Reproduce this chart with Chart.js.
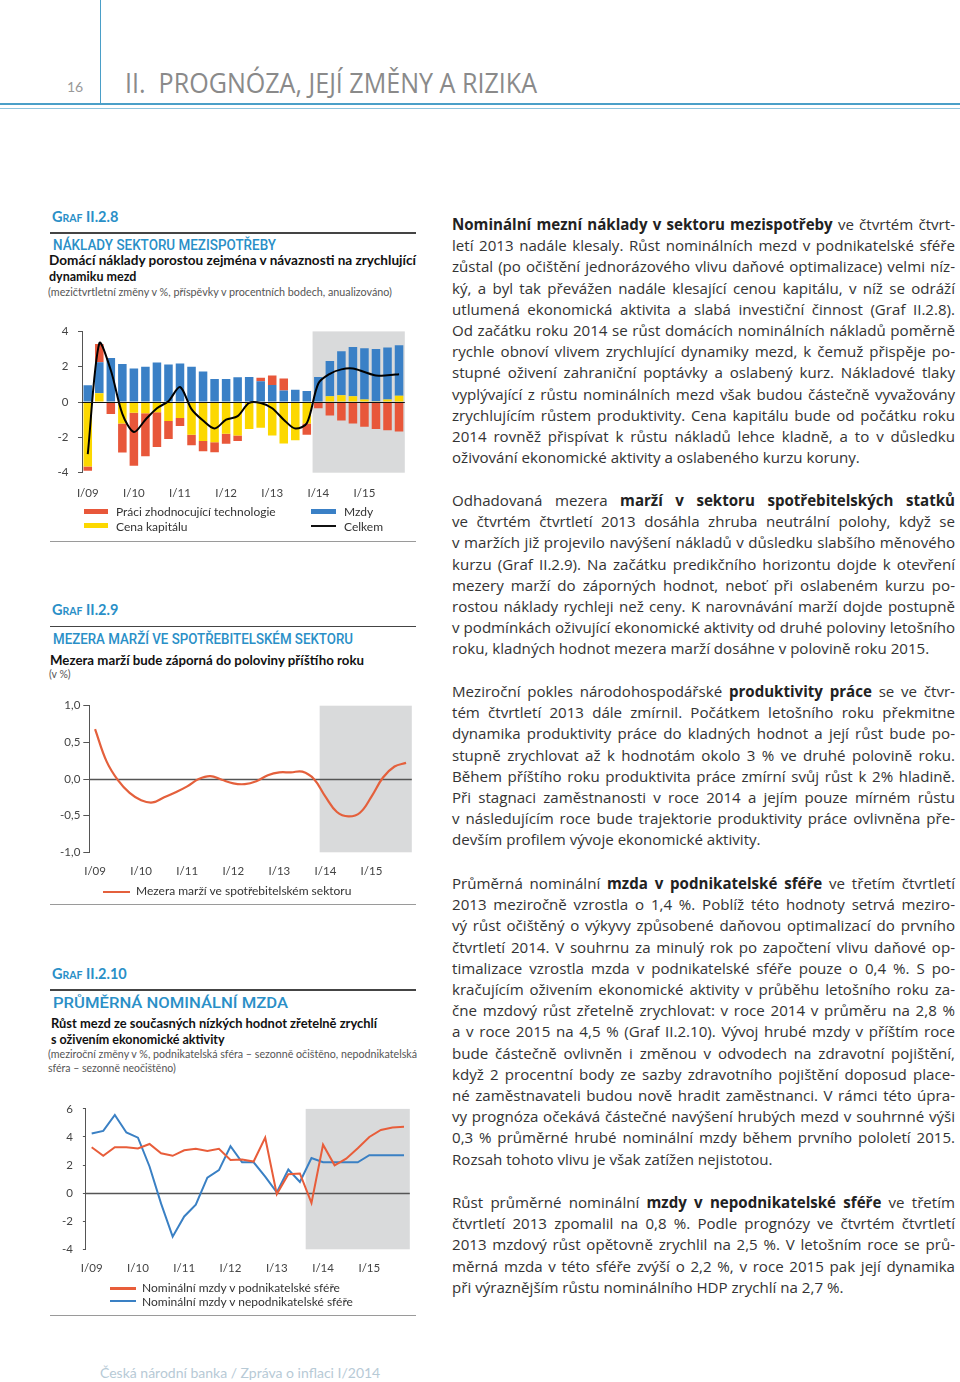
<!DOCTYPE html>
<html><head><meta charset="utf-8">
<script src="https://cdn.jsdelivr.net/npm/chart.js@4.4.1/dist/chart.umd.min.js"></script>
<style>
body{margin:0;width:960px;height:1382px;position:relative;background:#fff;font-family:Lato,"Open Sans",sans-serif;overflow:hidden;color:#333}
.a{position:absolute}
.t{position:absolute;white-space:nowrap;transform-origin:0 50%}
.graf{font-weight:700;color:#2a8fc7;font-size:14.5px;line-height:17px}
.graf span{font-size:10.5px}
.ttl{font-family:Roboto,sans-serif;font-weight:500;color:#2a8fc7;font-size:15px;line-height:17px}
.sub{font-weight:700;color:#111;font-size:12.5px;line-height:15px}
.note{color:#555;font-size:10.5px;line-height:13px}
.rule{position:absolute;left:50px;width:366px;height:1.5px;background:#444}
.rule2{position:absolute;left:50px;width:366px;height:1px;background:#9a9a9a}
.leg{position:absolute;font-size:12px;line-height:14px;color:#333;white-space:nowrap}
.sw{position:absolute}
.col{position:absolute;left:452px;width:503px;font-family:"Open Sans",sans-serif;font-size:15.1px;line-height:21.2px;color:#333}
.l{text-align:justify;text-align-last:justify}
.l.last{text-align:left;text-align-last:left}
.col b{font-weight:700;color:#222}
canvas{position:absolute}
</style></head><body>

<!-- header -->
<div class="a" style="left:99.5px;top:0;width:1.5px;height:104px;background:#4a9fc8"></div>
<div class="a" style="left:0;top:103px;width:960px;height:1.5px;background:#4a9fc8"></div>
<div class="a" style="left:0;top:107.5px;width:960px;height:1px;background:#8ec4de"></div>
<div class="t" style="left:67px;top:78px;font-size:14px;line-height:17px;color:#999">16</div>
<div class="t" data-fit="412" style="left:125px;top:68px;font-family:'Open Sans',sans-serif;font-size:27px;line-height:30px;color:#8a8a8a">II.&nbsp; PROGNÓZA, JEJÍ ZMĚNY A RIZIKA</div>

<!-- Graf II.2.8 -->
<div class="t graf" style="left:52px;top:208px">G<span>RAF</span> II.2.8</div>
<div class="rule" style="top:232px"></div>
<div class="t ttl" data-fit="223" style="left:53px;top:237px">NÁKLADY SEKTORU MEZISPOTŘEBY</div>
<div class="t sub" data-fit="367" style="left:49px;top:253px">Domácí náklady porostou zejména v návaznosti na zrychlující</div>
<div class="t sub" style="left:49px;top:269px">dynamiku mezd</div>
<div class="t note" data-fit="344" style="left:48px;top:286px">(mezičtvrtletní změny v %, příspěvky v procentních bodech, anualizováno)</div>
<canvas id="c1" width="380" height="200" style="left:40px;top:315px"></canvas>
<div class="sw" style="left:84px;top:509px;width:24px;height:5px;background:#e8573a"></div>
<div class="leg" style="left:116px;top:505px">Práci zhodnocující technologie</div>
<div class="sw" style="left:84px;top:523px;width:24px;height:5px;background:#fcd800"></div>
<div class="leg" style="left:116px;top:520px">Cena kapitálu</div>
<div class="sw" style="left:311px;top:509px;width:25px;height:5px;background:#3a80c6"></div>
<div class="leg" style="left:344px;top:505px">Mzdy</div>
<div class="sw" style="left:311px;top:525px;width:25px;height:2px;background:#111"></div>
<div class="leg" style="left:344px;top:520px">Celkem</div>
<div class="rule2" style="top:541px"></div>

<!-- Graf II.2.9 -->
<div class="t graf" style="left:52px;top:601px">G<span>RAF</span> II.2.9</div>
<div class="rule" style="top:625.5px"></div>
<div class="t ttl" data-fit="300" style="left:53px;top:631px">MEZERA MARŽÍ VE SPOTŘEBITELSKÉM SEKTORU</div>
<div class="t sub" data-fit="314" style="left:50px;top:653px">Mezera marží bude záporná do poloviny příštího roku</div>
<div class="t note" style="left:49px;top:668px">(v %)</div>
<canvas id="c2" width="380" height="190" style="left:40px;top:695px"></canvas>
<div class="sw" style="left:103px;top:890.5px;width:27px;height:2.5px;background:#e4603c"></div>
<div class="leg" style="left:136px;top:884px">Mezera marží ve spotřebitelském sektoru</div>
<div class="rule2" style="top:904px"></div>

<!-- Graf II.2.10 -->
<div class="t graf" style="left:52px;top:965px">G<span>RAF</span> II.2.10</div>
<div class="rule" style="top:989px"></div>
<div class="t ttl" data-fit="235" style="left:53px;top:995px">PRŮMĚRNÁ NOMINÁLNÍ MZDA</div>
<div class="t sub" data-fit="326" style="left:51px;top:1016px">Růst mezd ze současných nízkých hodnot zřetelně zrychlí</div>
<div class="t sub" style="left:51px;top:1032px">s oživením ekonomické aktivity</div>
<div class="t note" data-fit="369" style="left:48px;top:1048px">(meziroční změny v %, podnikatelská sféra – sezonně očištěno, nepodnikatelská</div>
<div class="t note" style="left:48px;top:1062px">sféra – sezonně neočištěno)</div>
<canvas id="c3" width="380" height="190" style="left:40px;top:1092px"></canvas>
<div class="sw" style="left:110px;top:1287px;width:26px;height:2.5px;background:#e85d3a"></div>
<div class="leg" style="left:142px;top:1281px">Nominální mzdy v podnikatelské sféře</div>
<div class="sw" style="left:110px;top:1299.5px;width:26px;height:2.5px;background:#3a80c4"></div>
<div class="leg" style="left:142px;top:1295px">Nominální mzdy v nepodnikatelské sféře</div>
<div class="rule2" style="top:1315px"></div>

<!-- right column -->
<div class="col" style="top:214px">
<div class="l"><b>Nominální mezní náklady v sektoru mezispotřeby</b> ve čtvrtém čtvrt-</div>
<div class="l">letí 2013 nadále klesaly. Růst nominálních mezd v podnikatelské sféře</div>
<div class="l">zůstal (po očištění jednorázového vlivu daňové optimalizace) velmi níz-</div>
<div class="l">ký, a byl tak převážen nadále klesající cenou kapitálu, v níž se odráží</div>
<div class="l">utlumená ekonomická aktivita a slabá investiční činnost (Graf II.2.8).</div>
<div class="l">Od začátku roku 2014 se růst domácích nominálních nákladů poměrně</div>
<div class="l">rychle obnoví vlivem zrychlující dynamiky mezd, k čemuž přispěje po-</div>
<div class="l">stupné oživení zahraniční poptávky a oslabený kurz. Nákladové tlaky</div>
<div class="l">vyplývající z růstu nominálních mezd však budou částečně vyvažovány</div>
<div class="l">zrychlujícím růstem produktivity. Cena kapitálu bude od počátku roku</div>
<div class="l">2014 rovněž přispívat k růstu nákladů lehce kladně, a to v důsledku</div>
<div class="l last">oživování ekonomické aktivity a oslabeného kurzu koruny.</div>
</div>
<div class="col" style="top:490px">
<div class="l">Odhadovaná mezera <b>marží v sektoru spotřebitelských statků</b></div>
<div class="l">ve čtvrtém čtvrtletí 2013 dosáhla zhruba neutrální polohy, když se</div>
<div class="l">v maržích již projevilo navýšení nákladů v důsledku slabšího měnového</div>
<div class="l">kurzu (Graf II.2.9). Na začátku predikčního horizontu dojde k otevření</div>
<div class="l">mezery marží do záporných hodnot, neboť při oslabeném kurzu po-</div>
<div class="l">rostou náklady rychleji než ceny. K narovnávání marží dojde postupně</div>
<div class="l">v podmínkách oživující ekonomické aktivity od druhé poloviny letošního</div>
<div class="l last">roku, kladných hodnot mezera marží dosáhne v polovině roku 2015.</div>
</div>
<div class="col" style="top:681px">
<div class="l">Meziroční pokles národohospodářské <b>produktivity práce</b> se ve čtvr-</div>
<div class="l">tém čtvrtletí 2013 dále zmírnil. Počátkem letošního roku překmitne</div>
<div class="l">dynamika produktivity práce do kladných hodnot a její růst bude po-</div>
<div class="l">stupně zrychlovat až k hodnotám okolo 3 % ve druhé polovině roku.</div>
<div class="l">Během příštího roku produktivita práce zmírní svůj růst k 2% hladině.</div>
<div class="l">Při stagnaci zaměstnanosti v roce 2014 a jejím pouze mírném růstu</div>
<div class="l">v následujícím roce bude trajektorie produktivity práce ovlivněna pře-</div>
<div class="l last">devším profilem vývoje ekonomické aktivity.</div>
</div>
<div class="col" style="top:873px">
<div class="l">Průměrná nominální <b>mzda v podnikatelské sféře</b> ve třetím čtvrtletí</div>
<div class="l">2013 meziročně vzrostla o 1,4 %. Poblíž této hodnoty setrvá meziro-</div>
<div class="l">vý růst očištěný o výkyvy způsobené daňovou optimalizací do prvního</div>
<div class="l">čtvrtletí 2014. V souhrnu za minulý rok po započtení vlivu daňové op-</div>
<div class="l">timalizace vzrostla mzda v podnikatelské sféře pouze o 0,4 %. S po-</div>
<div class="l">kračujícím oživením ekonomické aktivity v průběhu letošního roku za-</div>
<div class="l">čne mzdový růst zřetelně zrychlovat: v roce 2014 v průměru na 2,8 %</div>
<div class="l">a v roce 2015 na 4,5 % (Graf II.2.10). Vývoj hrubé mzdy v příštím roce</div>
<div class="l">bude částečně ovlivněn i změnou v odvodech na zdravotní pojištění,</div>
<div class="l">když 2 procentní body ze sazby zdravotního pojištění doposud place-</div>
<div class="l">né zaměstnavateli budou nově hradit zaměstnanci. V rámci této úpra-</div>
<div class="l">vy prognóza očekává částečné navýšení hrubých mezd v souhrnné výši</div>
<div class="l">0,3 % průměrné hrubé nominální mzdy během prvního pololetí 2015.</div>
<div class="l last">Rozsah tohoto vlivu je však zatížen nejistotou.</div>
</div>
<div class="col" style="top:1192px">
<div class="l">Růst průměrné nominální <b>mzdy v nepodnikatelské sféře</b> ve třetím</div>
<div class="l">čtvrtletí 2013 zpomalil na 0,8 %. Podle prognózy ve čtvrtém čtvrtletí</div>
<div class="l">2013 mzdový růst opětovně zrychlil na 2,5 %. V letošním roce se prů-</div>
<div class="l">měrná mzda v této sféře zvýší o 2,2 %, v roce 2015 pak její dynamika</div>
<div class="l last">při výraznějším růstu nominálního HDP zrychlí na 2,7 %.</div>
</div>

<div class="t" style="left:100px;top:1364px;font-size:14px;line-height:17px;color:#b7cad6">Česká národní banka / Zpráva o inflaci I/2014</div>

<script>
// ---------- data ----------
const quarters = ["I/09","II/09","III/09","IV/09","I/10","II/10","III/10","IV/10","I/11","II/11","III/11","IV/11","I/12","II/12","III/12","IV/12","I/13","II/13","III/13","IV/13","I/14","II/14","III/14","IV/14","I/15","II/15","III/15","IV/15"];

// Graf II.2.8
const cenaKapitalu = [-3.65,0.5,0,-1.22,-0.6,-0.64,-0.58,-1.07,-0.9,-1.85,-2.2,-2.27,-1.8,-1.9,-1.53,-1.45,-1.9,-2.35,-2.16,-1.22,0,0.33,0.38,0.33,0.15,0.05,0.15,0.35];
const mzdy = [0.95,1.76,2.5,2.15,1.9,2.0,2.24,2.13,2.18,2.0,1.73,1.31,1.31,1.4,1.42,1.18,0.96,0.65,0.7,0.62,1.42,2.0,2.49,2.78,2.89,2.95,2.94,2.87];
const praciZhodnocujici = [-0.24,1.02,-0.67,-1.63,-3.0,-2.43,-1.97,-1.02,-0.45,-0.59,-0.58,-0.57,-0.56,-0.3,0,0.2,0.55,0.68,0,-0.63,-0.35,-0.76,-1.04,-1.22,-1.4,-1.53,-1.6,-1.67];
const celkem = [-2.95,3.33,1.8,-0.67,-1.7,-1.0,-0.35,0.05,0.85,-0.4,-1.05,-1.5,-1.0,-0.8,-0.05,-0.05,-0.35,-1.0,-1.5,-1.2,1.05,1.6,1.85,1.9,1.7,1.5,1.52,1.58];

// Graf II.2.9
const mezeraMarzi = [0.68,0.24,-0.02,-0.19,-0.29,-0.32,-0.25,-0.18,-0.10,0.0,0.04,-0.01,-0.06,-0.07,-0.03,0.05,0.09,0.09,0.10,0.0,-0.24,-0.45,-0.51,-0.46,-0.24,0.02,0.17,0.22];

// Graf II.2.10
const mzdyPodnikatelske = [3.27,2.66,3.27,3.27,3.18,3.5,2.84,2.66,3.05,3.16,3.0,3.16,2.36,2.4,2.25,3.95,-0.07,1.34,1.4,-0.7,3.45,1.98,2.45,3.2,4.0,4.5,4.68,4.72];
const mzdyNepodnikatelske = [4.25,4.43,5.57,4.32,3.95,1.9,-0.75,-3.1,-1.66,-0.82,1.11,1.64,3.34,2.2,2.2,1.18,0.05,1.68,0.8,2.5,2.2,2.2,2.2,2.2,2.7,2.7,2.7,2.7];

// ---------- text fitting ----------
document.querySelectorAll('[data-fit]').forEach(el=>{
  const w = el.getBoundingClientRect().width;
  const target = parseFloat(el.dataset.fit);
  el.style.transform = 'scaleX(' + (target / w) + ')';
});
document.querySelectorAll('.col .l').forEach(el=>{
  let ls = 0;
  while (el.getBoundingClientRect().height > 30 && ls > -1.5) { ls -= 0.05; el.style.letterSpacing = ls + 'px'; }
});

// ---------- charts ----------
Chart.defaults.font.family = "Lato, 'Open Sans', sans-serif";
Chart.defaults.color = '#444';

const shadePlugin = {
  id: 'shade',
  beforeDatasetsDraw(chart, args, o) {
    const {ctx, chartArea: a, scales: {x, y}} = chart;
    const half = (x.getPixelForValue(1) - x.getPixelForValue(0)) / 2;
    const x0 = x.getPixelForValue(o.from) - half;
    ctx.save();
    ctx.fillStyle = '#d9dadb';
    ctx.fillRect(x0, a.top, a.right - x0, a.bottom - a.top);
    if (!o.zeroOnTop) {
      const yz = Math.round(y.getPixelForValue(0)) + 0.5;
      ctx.strokeStyle = o.zeroColor; ctx.lineWidth = 1.3;
      ctx.beginPath(); ctx.moveTo(a.left, yz); ctx.lineTo(a.right, yz); ctx.stroke();
    }
    ctx.restore();
  },
  afterDatasetsDraw(chart, args, o) {
    if (!o.zeroOnTop) return;
    const {ctx, chartArea: a, scales: {y}} = chart;
    const yz = Math.round(y.getPixelForValue(0)) + 0.5;
    ctx.save();
    ctx.strokeStyle = o.zeroColor; ctx.lineWidth = 1.2;
    ctx.beginPath(); ctx.moveTo(a.left, yz); ctx.lineTo(a.right, yz); ctx.stroke();
    ctx.restore();
  }
};

function opts(c) {
  return {
    responsive: false, animation: false, devicePixelRatio: 1,
    layout: { autoPadding: false, padding: { left: 0, top: c.padTop, right: c.padRight, bottom: 0 } },
    plugins: { legend: { display: false }, tooltip: { enabled: false },
      shade: { from: c.shadeFrom, zeroOnTop: c.zeroOnTop, zeroColor: c.zeroColor } },
    scales: {
      x: {
        type: 'category', offset: true, stacked: c.stacked,
        grid: { display: false, drawTicks: false }, border: { display: false },
        ticks: { autoSkip: false, maxRotation: 0, minRotation: 0, padding: c.xPad,
          font: { size: 11.5 }, color: '#444',
          callback: (v, i) => quarters[i].startsWith('I/') ? quarters[i] : '' },
        afterFit: s => { s.height = c.xHeight; }
      },
      y: {
        min: c.min, max: c.max, stacked: c.stacked,
        grid: { drawOnChartArea: false, drawTicks: true, tickLength: c.tickLen, color: '#555', tickColor: '#555', lineWidth: 1 },
        border: { display: true, color: '#555', width: 1 },
        ticks: { stepSize: c.step, padding: c.tickPad, font: { size: 11.5 }, color: '#444', callback: c.fmt },
        afterFit: s => { s.width = c.yWidth; }
      }
    }
  };
}

new Chart(document.getElementById('c1'), {
  type: 'bar',
  data: {
    labels: quarters,
    datasets: [
      { type: 'line', label: 'Celkem', data: celkem, borderColor: '#000', borderWidth: 2, pointRadius: 0, tension: 0.3, stack: 'line', order: 0, fill: false },
      { label: 'Cena kapitálu', data: cenaKapitalu, backgroundColor: '#fcd800', stack: 'bars', order: 1, barPercentage: 0.74, categoryPercentage: 1 },
      { label: 'Mzdy', data: mzdy, backgroundColor: '#3a80c6', stack: 'bars', order: 1, barPercentage: 0.74, categoryPercentage: 1 },
      { label: 'Práci zhodnocující technologie', data: praciZhodnocujici, backgroundColor: '#e8573a', stack: 'bars', order: 1, barPercentage: 0.74, categoryPercentage: 1 }
    ]
  },
  options: opts({ padTop: 11, padRight: 15.2, xHeight: 42.3, yWidth: 42, min: -4, max: 4, step: 2,
    tickLen: 4, tickPad: 9.5, xPad: 14, stacked: true, shadeFrom: 20, zeroOnTop: true, zeroColor: '#111',
    fmt: v => String(v) }),
  plugins: [shadePlugin]
});

new Chart(document.getElementById('c2'), {
  type: 'line',
  data: {
    labels: quarters,
    datasets: [
      { label: 'Mezera marží ve spotřebitelském sektoru', data: mezeraMarzi, borderColor: '#e4603c', borderWidth: 2.2, pointRadius: 0, tension: 0.4, fill: false }
    ]
  },
  options: opts({ padTop: 10.7, padRight: 8.2, xHeight: 32.7, yWidth: 49.3, min: -1, max: 1, step: 0.5,
    tickLen: 6, tickPad: 3, xPad: 12.5, stacked: false, shadeFrom: 20, zeroOnTop: false, zeroColor: '#555',
    fmt: v => v.toFixed(1).replace('.', ',') }),
  plugins: [shadePlugin]
});

new Chart(document.getElementById('c3'), {
  type: 'line',
  data: {
    labels: quarters,
    datasets: [
      { label: 'Nominální mzdy v podnikatelské sféře', data: mzdyPodnikatelske, borderColor: '#e85d3a', borderWidth: 2, pointRadius: 0, tension: 0, fill: false },
      { label: 'Nominální mzdy v nepodnikatelské sféře', data: mzdyNepodnikatelske, borderColor: '#3a80c4', borderWidth: 2, pointRadius: 0, tension: 0, fill: false }
    ]
  },
  options: opts({ padTop: 10.7, padRight: 10.2, xHeight: 32.7, yWidth: 45.9, min: -4, max: 6, step: 2,
    tickLen: 3, tickPad: 10, xPad: 12, stacked: false, shadeFrom: 19, zeroOnTop: false, zeroColor: '#555',
    fmt: v => String(v) }),
  plugins: [shadePlugin]
});
</script>
</body></html>
